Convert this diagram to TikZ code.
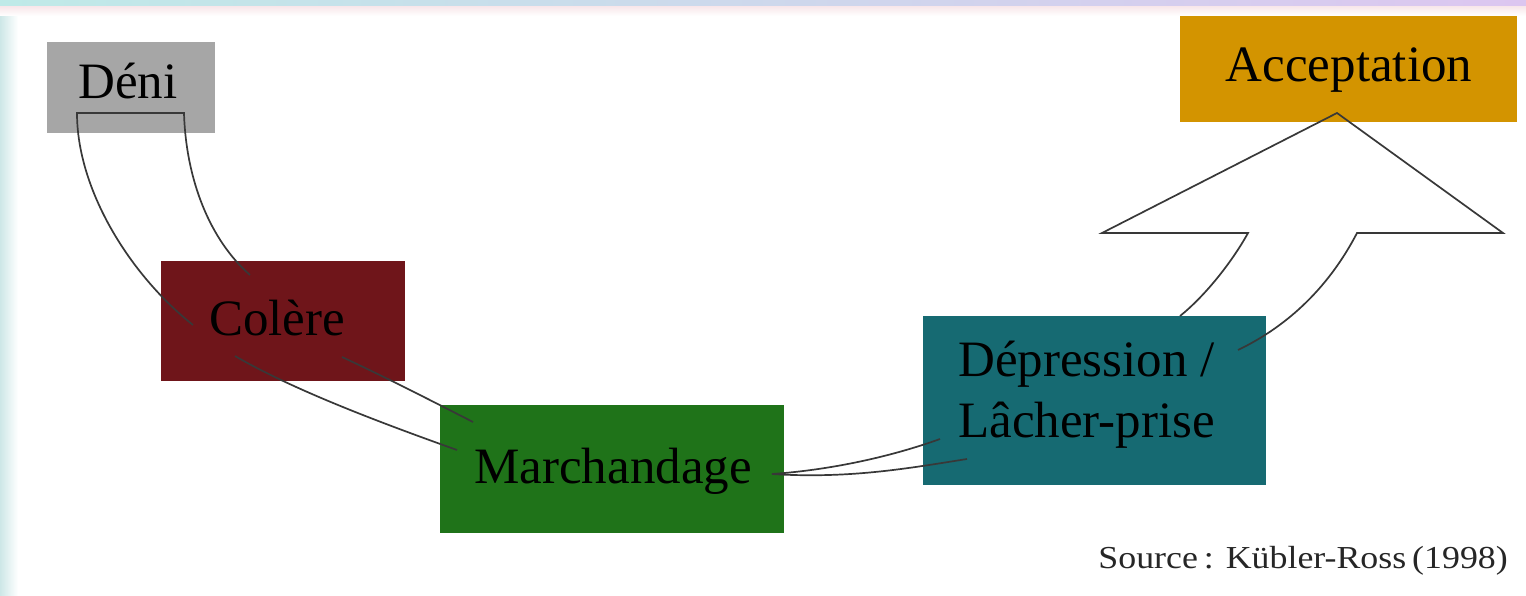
\documentclass[tikz,border=0pt]{standalone}
\usepackage{fontspec}
\setmainfont{Liberation Serif}
\usepackage{graphicx}
\definecolor{cdeni}{HTML}{A6A6A6}
\definecolor{ccolere}{HTML}{6F151A}
\definecolor{cmarch}{HTML}{1F7319}
\definecolor{cdep}{HTML}{166A72}
\definecolor{cacc}{HTML}{D39400}
\definecolor{stripA}{HTML}{BFEAE8}
\definecolor{stripB}{HTML}{F4DADF}
\definecolor{stripC}{HTML}{DCC6F0}
\definecolor{sideA}{HTML}{CDE7E7}
\begin{document}
\begin{tikzpicture}[x=1pt,y=-1pt,
  stage/.style={rectangle, inner sep=0pt, draw=none, anchor=north west},
  lab/.style={inner sep=0pt, font=\fontsize{51}{59}\selectfont, text=black},
  conn/.style={draw=black!78, line width=1.7pt, line join=miter}]
\useasboundingbox (0,0) rectangle (1526,596);
\fill[white] (0,0) rectangle (1526,596);
\shade[left color=sideA, right color=white] (0,0) rectangle (18,596);
\shade[left color=stripA, middle color=stripB, right color=stripC] (0,0) rectangle (1526,7);
\shade[top color=stripB!60, bottom color=white] (0,7) rectangle (1526,16);
% boxes
\node[stage, fill=cdeni, minimum width=168pt, minimum height=91pt] (deni) at (47,42) {};
\node[stage, fill=ccolere, minimum width=244pt, minimum height=120pt] (colere) at (161,261) {};
\node[stage, fill=cmarch, minimum width=344pt, minimum height=128pt] (march) at (440,405) {};
\node[stage, fill=cdep, minimum width=343pt, minimum height=169pt] (dep) at (923,316) {};
\node[stage, fill=cacc, minimum width=337pt, minimum height=106pt] (acc) at (1180,16) {};
% labels
\node[lab, anchor=base] (denit) at (128,99) {Déni};
\node[lab, anchor=base] (colt) at (277,335) {Colère};
\node[lab, anchor=base] (marcht) at (613,483) {Marchandage};
\node[lab, anchor=base west] (dept1) at (958,376) {Dépression /};
\node[lab, anchor=base west] (dept2) at (958,437) {Lâcher-prise};
\node[lab, anchor=base] (acct) at (1349,82) {Acceptation};
\node[inner sep=0pt, anchor=base east, font=\fontsize{32}{38}\selectfont, text=black!85] (src) at (1508,568) {\scalebox{1.12}[1]{Source\,: Kübler-Ross\,(1998)}};
% connector end points
\coordinate (dcA) at (193,325);
\coordinate (dcB) at (250,275);
\coordinate (cmA) at (235,356);
\coordinate (cmB) at (457,450);
\coordinate (cmC) at (342,357);
\coordinate (cmD) at (473,422);
\coordinate (mdS) at (772,474);
\coordinate (mdA) at (940,439);
\coordinate (mdB) at (967,459);
\coordinate (daA) at (1180,316);
\coordinate (daB) at (1238,350);
\coordinate (apex) at (1337,113);
% Deni -> Colere
\draw[conn] (dcA) .. controls (130,275) and (77,190) .. (77,113) -- (184,113) .. controls (186,180) and (210,240) .. (dcB);
% Colere -> Marchandage
\draw[conn] (cmA) .. controls (295,391) and (387,425) .. (cmB);
\draw[conn] (cmC) .. controls (385,377) and (430,400) .. (cmD);
% Marchandage -> Depression
\draw[conn] (mdS) .. controls (830,470) and (890,457) .. (mdA);
\draw[conn] (mdS) .. controls (850,479) and (910,468) .. (mdB);
% Depression -> Acceptation (open block arrow)
\draw[conn] (daA) .. controls (1205,296) and (1232,262) .. (1248,233) -- (1102,233) -- (apex) -- (1503,233) -- (1357,233) .. controls (1330,285) and (1290,325) .. (daB);
\end{tikzpicture}
\end{document}
